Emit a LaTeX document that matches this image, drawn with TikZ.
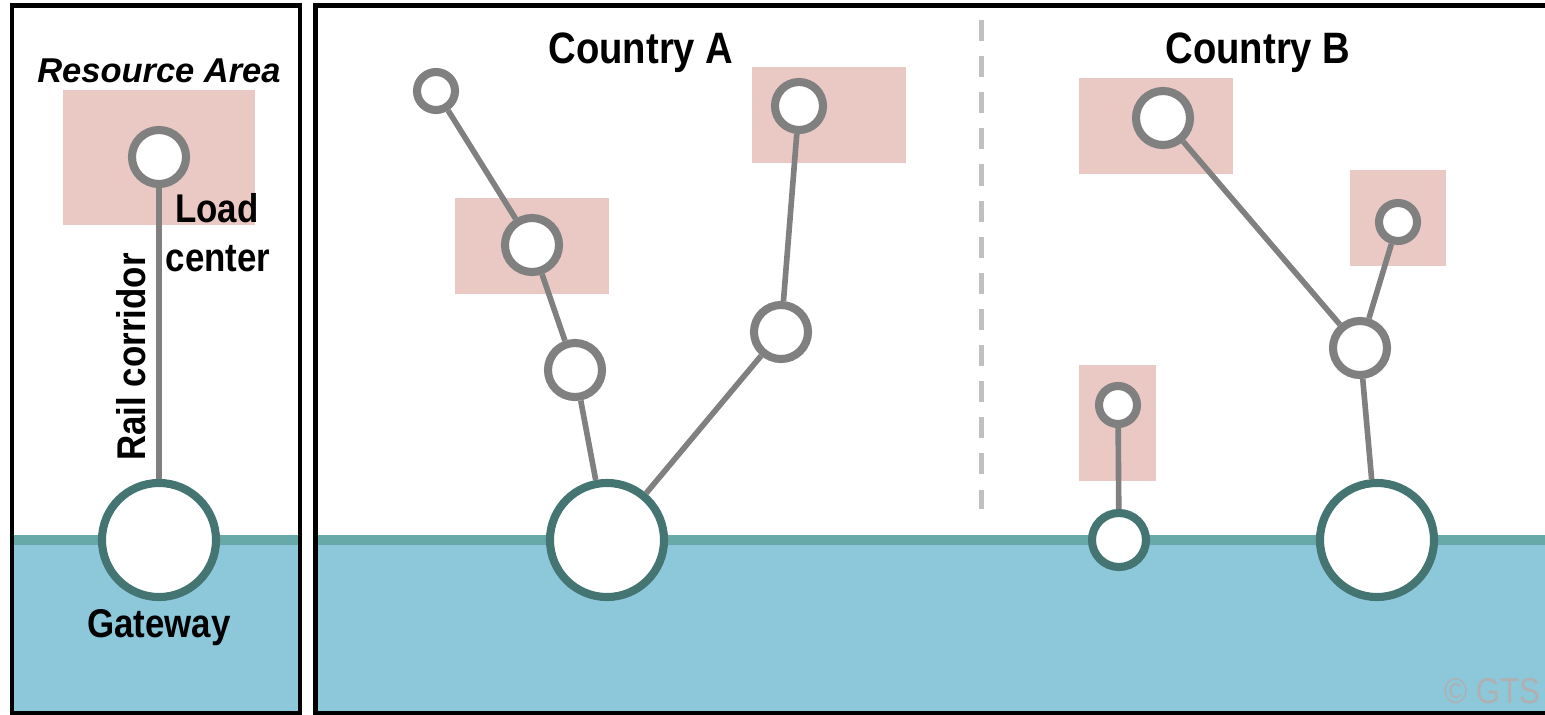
\documentclass[tikz,border=0pt]{standalone}
\usepackage{fontspec}
\setmainfont{Liberation Sans}
\newfontfamily\narrowsans{Liberation Sans}[FakeStretch=0.87]
\usepackage{tikz}
\usetikzlibrary{positioning}

\definecolor{nodegray}{HTML}{808080}
\definecolor{portteal}{HTML}{447572}
\definecolor{shoreteal}{HTML}{67A8A8}
\definecolor{seablue}{HTML}{8DC7DA}
\definecolor{zonepink}{HTML}{EAC8C4}
\definecolor{bordergray}{HTML}{C0C0C0}
\definecolor{markgray}{HTML}{B0B0B0}

\begin{document}
\begin{tikzpicture}[
  x=0.01cm, y=-0.01cm,
  txt/.style={font=\narrowsans\bfseries\fontsize{11.4}{13}\selectfont,
    anchor=base, inner sep=0pt},
  title/.style={txt, font=\narrowsans\bfseries\fontsize{12.5}{14}\selectfont},
  hub/.style={circle, draw=nodegray, line width=2.3pt, fill=white, inner sep=0pt},
  small/.style={hub, minimum size=3.8mm},
  mid/.style={hub, minimum size=5.4mm},
  port/.style={hub, draw=portteal, minimum size=5.4mm},
  bigport/.style={port, minimum size=11.4mm},
  link/.style={draw=nodegray, line width=1.6pt},
  zone/.style={fill=zonepink},
  water/.style={fill=seablue},
  shore/.style={draw=shoreteal, line width=3pt},
  panel/.style={draw=black, line width=1.4pt},
]
\useasboundingbox (0,0) rectangle (1545,715);

% ========= Sea and coastline =========
\fill[water] (12,540) rectangle (300,713);
\fill[water] (315.5,540) rectangle (1545,713);
\draw[shore] (12,540) -- (300,540);
\draw[shore] (315.5,540) -- (1545,540);

% ========= Resource zones =========
\fill[zone] (63,90) rectangle (255,225);
\fill[zone] (455,198) rectangle (609,294);
\fill[zone] (752,67) rectangle (906,163);
\fill[zone] (1079,78) rectangle (1233,174);
\fill[zone] (1350,170) rectangle (1446,266);
\fill[zone] (1079,365) rectangle (1156,481);

% ========= Border between countries =========
\draw[bordergray, line width=1.4pt, dash pattern=on 6pt off 4.27pt]
  (981.5,20) -- (981.5,509);

% ========= Legend panel =========
\node[mid] at (159,157) (ldc) {};
\node[bigport] at (159,540) (gwl) {};
\draw[link] (ldc) -- (gwl);

% ========= Country A =========
\node[small] at (436,91) (a1) {};
\node[mid] at (532,245) (a2) {};
\node[mid] at (575,370) (a3) {};
\node[mid] at (781,332) (a4) {};
\node[hub, minimum size=4.8mm] at (799,106) (a5) {};
\node[bigport] at (607,540) (gwa) {};

\draw[link] (a1) -- (a2);
\draw[link] (a2) -- (a3);
\draw[link] (a3) -- (gwa);
\draw[link] (gwa) -- (a4);
\draw[link] (a4) -- (a5);

% ========= Country B =========
\node[mid] at (1163,118) (b1) {};
\node[small] at (1398,222) (b2) {};
\node[mid] at (1360,348) (b3) {};
\node[small] at (1118,405) (b4) {};
\node[port] at (1119,540) (gwc) {};
\node[bigport] at (1377,540) (gwb) {};

\draw[link] (b1) -- (b3);
\draw[link] (b2) -- (b3);
\draw[link] (b3) -- (gwb);
\draw[link] (b4) -- (gwc);

% ========= Panel frames =========
\draw[panel] (12,5.5) rectangle (300,713);
\draw[panel] (315.5,5.5) rectangle (1560,713);

% ========= Labels =========
\node[txt, font=\bfseries\itshape\fontsize{9.8}{12}\selectfont] at (159,82) (resarea) {Resource Area};
\node[txt] at (217,222) (load) {Load};
\node[txt] at (218,271) (center) {center};
\node[txt, rotate=90] at (145,357) (rail) {Rail corridor};
\node[txt] at (159,637) (gate) {Gateway};
\node[title] at (641,63) (ctya) {Country A};
\node[title] at (1258,63) (ctyb) {Country B};
\node[txt, font=\narrowsans\fontsize{10.2}{12}\selectfont, text=markgray] at (1492,703) (mark) {© GTS};

\end{tikzpicture}
\end{document}
